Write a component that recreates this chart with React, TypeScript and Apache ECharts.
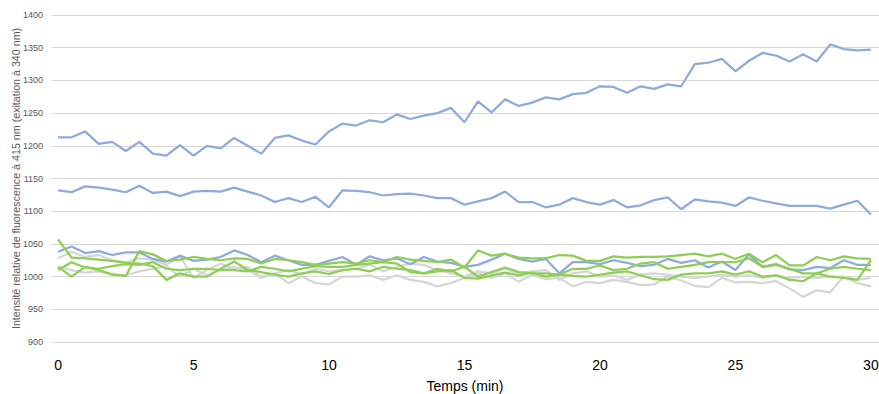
import React, { useEffect, useRef } from "react";
import * as echarts from "echarts";

const times = [
  0, 0.5, 1, 1.5, 2, 2.5, 3, 3.5, 4, 4.5,
  5, 5.5, 6, 6.5, 7, 7.5, 8, 8.5, 9, 9.5,
  10, 10.5, 11, 11.5, 12, 12.5, 13, 13.5, 14, 14.5,
  15, 15.5, 16, 16.5, 17, 17.5, 18, 18.5, 19, 19.5,
  20, 20.5, 21, 21.5, 22, 22.5, 23, 23.5, 24, 24.5,
  25, 25.5, 26, 26.5, 27, 27.5, 28, 28.5, 29, 29.5,
  30,
];

const xTickLabels = [0, 5, 10, 15, 20, 25, 30];

const blue1 = [
  1213, 1213, 1222, 1203, 1206, 1192, 1206, 1188, 1185, 1201,
  1185, 1200, 1196, 1212, 1200, 1188, 1212, 1216, 1208, 1202,
  1222, 1234, 1231, 1239, 1236, 1248, 1241, 1246, 1250, 1258,
  1236, 1268, 1251, 1271, 1261, 1266, 1274, 1271, 1279, 1281,
  1291, 1290, 1281, 1291, 1287, 1294, 1291, 1325, 1327, 1333,
  1314, 1330, 1342, 1338, 1329, 1340, 1329, 1355, 1348, 1346,
  1347,
];

const blue2 = [
  1132, 1129, 1138, 1136, 1133, 1129, 1139, 1128, 1130, 1123,
  1130, 1131, 1130, 1136, 1130, 1124, 1114, 1120, 1114, 1122,
  1106, 1132, 1131, 1129, 1124, 1126, 1127, 1124, 1120, 1120,
  1110, 1115, 1120, 1130, 1114, 1114, 1106, 1110, 1120, 1114,
  1110, 1117, 1106, 1109, 1117, 1121, 1103, 1118, 1115, 1113,
  1108, 1121, 1116, 1112, 1108, 1108, 1108, 1104, 1110, 1116,
  1095,
];

const blue3 = [
  1038, 1046, 1036, 1039, 1033, 1037, 1037, 1027, 1023, 1032,
  1024, 1026, 1030, 1040, 1033, 1022, 1032, 1025, 1018, 1018,
  1024, 1030, 1018, 1031, 1025, 1028, 1019, 1030, 1023, 1021,
  1015, 1018, 1026, 1035, 1027, 1023, 1027, 1005, 1022, 1022,
  1019, 1025, 1021, 1016, 1018, 1027, 1021, 1025, 1014, 1023,
  1010, 1034, 1015, 1019, 1011, 1010, 1015, 1013, 1025, 1018,
  1018,
];

const green1 = [
  1015, 1000, 1015, 1010, 1003, 1001, 1039, 1034, 1024, 1026,
  1030, 1027, 1025, 1028, 1027, 1020, 1027, 1025, 1022, 1018,
  1020, 1022, 1020, 1025, 1022, 1030, 1026, 1024, 1022, 1026,
  1014, 1040, 1032, 1035, 1029, 1028, 1028, 1033, 1032, 1024,
  1024, 1031, 1029, 1030, 1030, 1031, 1033, 1035, 1031, 1035,
  1027, 1035, 1022, 1033, 1017, 1017, 1030, 1025, 1031, 1028,
  1027,
];

const green2 = [
  1057, 1029, 1028, 1026, 1024, 1021, 1020, 1016, 995, 1005,
  1000, 1000, 1012, 1023, 1010, 1007, 1003, 1000, 1005, 1008,
  1004, 1010, 1012, 1008, 1015, 1012, 1010, 1005, 1008, 1010,
  998, 997, 1002, 1006, 1002, 1006, 1000, 1003, 1001, 1000,
  1003, 1006, 1008, 1002, 996, 995, 1003, 1005, 1005, 1008,
  1003, 1008, 1000, 1002, 995, 993, 1005, 1000, 998, 995,
  1025,
];

const green3 = [
  1010, 1022, 1014, 1012, 1016, 1019, 1018, 1022, 1012, 1010,
  1012, 1012, 1010, 1010, 1008, 1015, 1012, 1008, 1012, 1016,
  1015, 1015, 1018, 1020, 1022, 1020, 1007, 1005, 1012, 1008,
  1015, 1000, 1007, 1014, 1007, 1005, 1005, 1003, 1012, 1012,
  1017, 1010, 1012, 1020, 1022, 1012, 1015, 1018, 1022, 1022,
  1022, 1028, 1015, 1018, 1012, 1005, 1005, 1012, 1015, 1012,
  1010,
];

const grey1 = [
  1028, 1038, 1030, 1033, 1025, 1022, 1028, 1026, 1018, 1031,
  998, 1010, 1020, 1012, 1015, 1000, 1005, 1010, 1003, 1012,
  1008, 1010, 1012, 1018, 1008, 1015, 1020, 1018, 1010, 1005,
  1000, 1008, 1005, 1012, 1005, 1008, 1010, 995, 1005, 1008,
  1000, 1002, 995, 1003, 1005, 1003, 1000, 998, 1000, 1003,
  1000, 1002, 998, 1002, 998, 1000, 998, 1000, 1000, 995,
  998,
];

const grey2 = [
  1015, 1010, 1006, 1008, 1004, 1002, 1008, 1012, 1016, 1000,
  1012, 1002, 1010, 1015, 1010, 998, 1005, 990, 1000, 990,
  988, 1000, 1000, 1002, 995, 1002, 995, 992, 985, 990,
  998, 1005, 998, 1005, 992, 1003, 996, 998, 985, 992,
  990, 995, 992, 987, 988, 1000, 994, 986, 984, 998,
  991, 992, 990, 993, 982, 969, 979, 976, 1000, 990,
  985,
];

const BLUE = "#8FAADC";
const GREEN = "#8FCE55";
const GREY = "#D6D6D6";

const seriesDefs: { values: number[]; color: string }[] = [
  { values: grey1, color: GREY },
  { values: grey2, color: GREY },
  { values: blue1, color: BLUE },
  { values: blue2, color: BLUE },
  { values: blue3, color: BLUE },
  { values: green1, color: GREEN },
  { values: green2, color: GREEN },
  { values: green3, color: GREEN },
];

export default function App() {
  const ref = useRef<HTMLDivElement>(null);
  useEffect(() => {
    if (!ref.current) return;
    const chart = echarts.init(ref.current, undefined, { renderer: "svg" });
    chart.setOption({
      animation: false,
      backgroundColor: "#ffffff",
      grid: {
        left: 51,
        right: 0,
        top: 15,
        bottom: 52,
        containLabel: false,
        outerBoundsMode: "none",
      },
      xAxis: {
        type: "value",
        min: -0.26,
        max: 30.3,
        name: "Temps (min)",
        nameLocation: "middle",
        nameGap: 37,
        nameMoveOverlap: false,
        nameTextStyle: { fontFamily: "Liberation Sans", fontSize: 14, color: "#000000" },
        axisLine: { show: false },
        axisTick: { show: false },
        splitLine: { show: false },
        axisLabel: {
          customValues: xTickLabels,
          fontFamily: "Liberation Sans",
          fontSize: 14,
          color: "#000000",
          margin: 16,
          formatter: (v: number) => String(v),
        },
      },
      yAxis: {
        type: "value",
        min: 900,
        max: 1400,
        interval: 50,
        name: "Intensité relative de fluorescence à 415 nm (exitation à 340 nm)",
        nameLocation: "middle",
        nameGap: 30,
        nameMoveOverlap: false,
        nameTextStyle: { fontFamily: "Liberation Sans", fontSize: 10.7, color: "#595959" },
        axisLine: { show: false },
        axisTick: { show: false },
        splitLine: { lineStyle: { color: "#D9D9D9", width: 1 } },
        axisLabel: {
          fontFamily: "Liberation Sans",
          fontSize: 9,
          color: "#595959",
          margin: 8,
          formatter: (v: number) => String(v),
        },
      },
      series: seriesDefs.map((s) => ({
        type: "line",
        data: times.map((t, i) => [t, s.values[i]]),
        showSymbol: false,
        symbol: "none",
        lineStyle: { color: s.color, width: 2.25 },
        itemStyle: { color: s.color },
      })),
    });
    return () => chart.dispose();
  }, []);
  return (
    <div
      ref={ref}
      style={{ position: "fixed", left: 0, top: 0, width: 879, height: 394 }}
    />
  );
}
